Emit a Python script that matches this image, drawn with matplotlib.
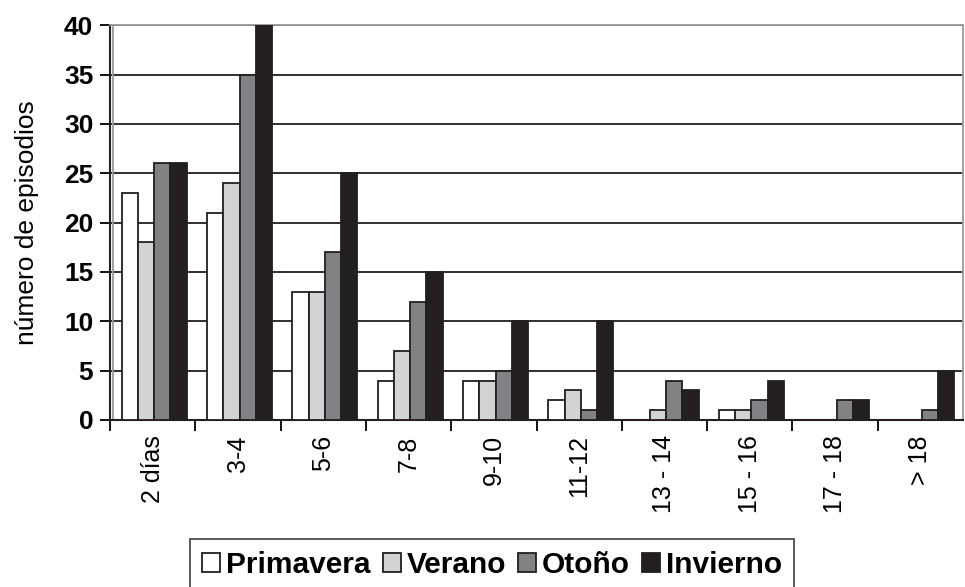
import matplotlib.pyplot as plt
import numpy as np

plt.rcParams["font.family"] = ["Liberation Sans", "DejaVu Sans"]

categorias = ["2 días", "3-4", "5-6", "7-8", "9-10", "11-12",
              "13 - 14", "15 - 16", "17 - 18", "> 18"]
primavera = [23, 21, 13, 4, 4, 2, 0, 1, 0, 0]
verano = [18, 24, 13, 7, 4, 3, 1, 1, 0, 0]
otono = [26, 35, 17, 12, 5, 1, 4, 2, 2, 1]
invierno = [26, 40, 25, 15, 10, 10, 3, 4, 2, 5]

series = [("Primavera", primavera, "#ffffff"),
          ("Verano", verano, "#d1d3d4"),
          ("Otoño", otono, "#808285"),
          ("Invierno", invierno, "#231f20")]

fig = plt.figure(figsize=(9.65, 5.87), dpi=100)
ax = fig.add_axes([0.114, 0.2845, 0.884, 0.6725])

x = np.arange(len(categorias))
ancho = 0.19
for i, (nombre, valores, color) in enumerate(series):
    ax.bar(x + (i - 1.4) * ancho, valores, width=ancho, color=color,
           edgecolor="#231f20", linewidth=1.3, label=nombre, zorder=3)

ax.set_xlim(-0.5, len(categorias) - 0.5)
ax.set_ylim(0, 40)
ax.set_yticks(range(0, 41, 5))
ax.yaxis.grid(True, color="#231f20", linewidth=1.3, zorder=0)
ax.set_axisbelow(True)
# linea gris interior del "muro" del grafico
ax.axvline(-0.465, color="#999999", linewidth=1.3, zorder=1)

ax.set_xticks(x - 0.5, minor=False)
ax.set_xticklabels([])
ax.set_xticks(x, minor=True)
ax.set_xticklabels(categorias, minor=True, rotation=90, fontsize=18)
ax.tick_params(axis="x", which="minor", length=0, pad=11)
ax.tick_params(axis="x", which="major", length=8, width=1.3, direction="out")
ax.tick_params(axis="y", length=7, width=1.3, direction="out", pad=5)
for lbl in ax.get_yticklabels():
    lbl.set_fontweight("bold")
    lbl.set_fontsize(19)

ax.set_ylabel("número de episodios", fontsize=19, labelpad=18)
for lado in ["left", "bottom"]:
    ax.spines[lado].set_color("#231f20")
    ax.spines[lado].set_linewidth(1.5)
for lado in ["top", "right"]:
    ax.spines[lado].set_color("#999999")
    ax.spines[lado].set_linewidth(1.3)

leg = fig.legend(loc="lower center", bbox_to_anchor=(0.51, -0.022), ncol=4,
                 frameon=True, fancybox=False, handlelength=0.6,
                 handleheight=0.6, handletextpad=0.2, columnspacing=0.4,
                 prop={"weight": "bold", "size": 21.5}, borderpad=0.4,
                 borderaxespad=0.3)
leg.get_frame().set_edgecolor("#231f20")
leg.get_frame().set_linewidth(1.3)

fig.savefig("out.png", dpi=100)
